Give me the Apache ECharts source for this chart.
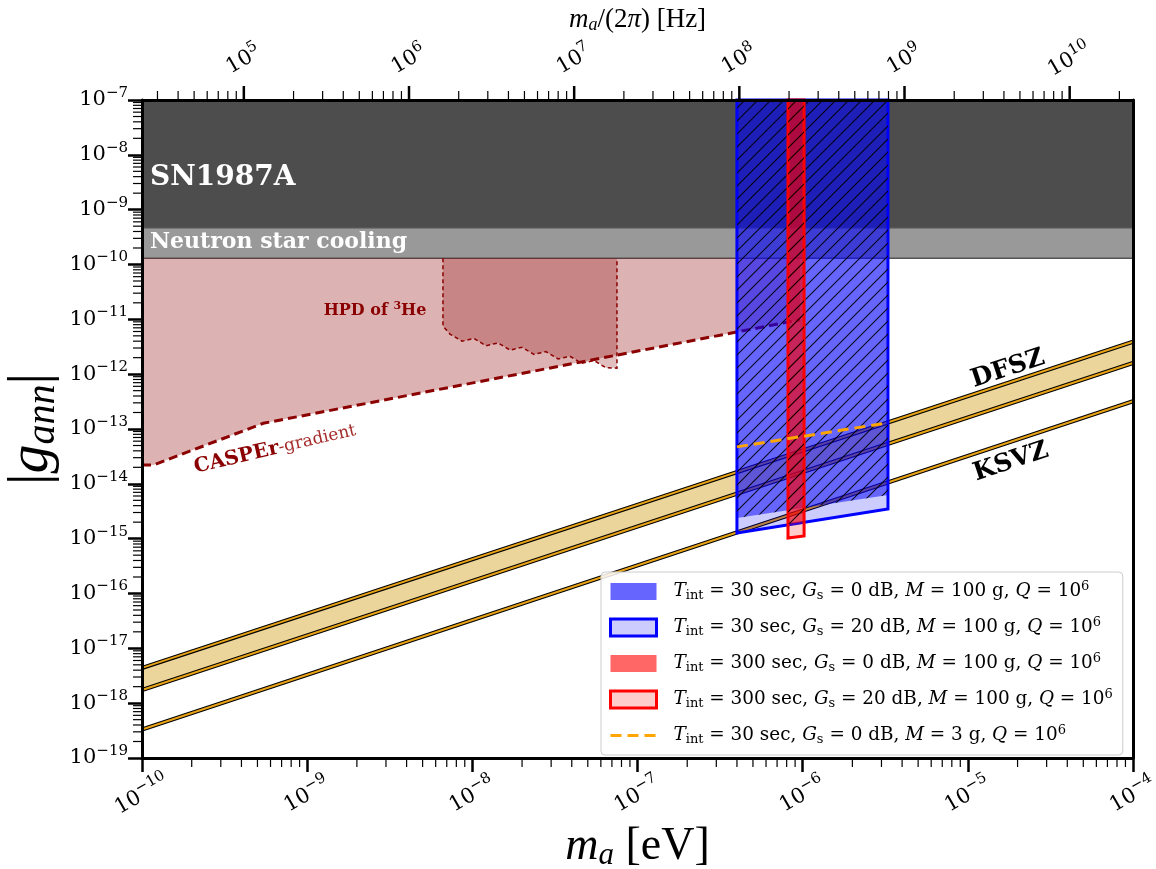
<!DOCTYPE html>
<html>
<head>
<meta charset="utf-8">
<script src="https://cdn.jsdelivr.net/npm/echarts@6/dist/echarts.min.js"></script>
<style>
html, body { margin: 0; padding: 0; background: #fff; }
#chart { width: 1156px; height: 869px; }
</style>
</head>
<body>
<div id="chart"></div>
<script>
var SERIF = "'Liberation Serif', 'DejaVu Serif', serif";
var DSERIF = "'DejaVu Serif', serif";
var lg = Math.log10;

// axis ranges (eV, coupling)
var xMin = 1e-10, xMax = 1e-4;
var yMin = 1e-19, yMax = 1e-7;
var hzPerEv = 1 / 4.1357e-15;

// tick exponents
var xTickExp = [-10, -9, -8, -7, -6, -5, -4];
var yTickExp = [-19, -18, -17, -16, -15, -14, -13, -12, -11, -10, -9, -8, -7];
var hzTickExp = [4, 5, 6, 7, 8, 9, 10];
var minorMult = [2, 3, 4, 5, 6, 7, 8, 9];

// astrophysical bounds
var sn1987a = [4.7e-10, 1e-7];
var nsCooling = [1.3e-10, 4.7e-10];

// CASPEr-gradient
var casperMass = [1e-10, 1.17e-10, 5.42e-10, 9.64e-7];
var casperG = [2.2e-14, 2.2e-14, 1.27e-13, 9.8e-12];

// HPD of 3He
var hpdMass = [6.64e-9, 6.64e-9, 7.32e-9, 8.66e-9, 1.023e-8, 1.21e-8, 1.43e-8, 1.69e-8, 2.0e-8,
  2.36e-8, 2.79e-8, 3.30e-8, 3.90e-8, 4.61e-8, 5.45e-8, 6.45e-8, 7.51e-8, 7.51e-8];
var hpdG = [1.3e-10, 7.55e-12, 5.39e-12, 3.99e-12, 4.49e-12, 3.30e-12, 3.72e-12, 2.75e-12, 3.09e-12,
  2.29e-12, 2.58e-12, 1.90e-12, 2.12e-12, 1.58e-12, 1.77e-12, 1.31e-12, 1.29e-12, 1.3e-10];

// QCD axion models
var modelMass = [1e-10, 1e-4];
var dfszUpper = [4.4e-18, 3.9e-12];
var dfszLower = [1.74e-18, 1.6e-12];
var ksvz = [3.3e-19, 3.2e-13];

// projected sensitivities
var blueMass = [4.0e-7, 3.285e-6];
var blue0dB = [2.38e-15, 6.25e-15];
var blue20dB = [1.27e-15, 3.47e-15];
var redMass = [8.15e-7, 1.02e-6];
var red0dB = [1.85e-15, 2.01e-15];
var red20dB = [1.03e-15, 1.12e-15];
var orangeMass = [4.0e-7, 3.285e-6];
var orange3g = [4.72e-14, 1.30e-13];

var legendRichText = {
  blue0: '{i0|T}{sub|int}{r| = 30 sec, }{i|G}{sub|s}{r| = 0 dB, }{i|M}{r| = 100 g, }{i|Q}{r| = 10}{sup|6}',
  blue20: '{i0|T}{sub|int}{r| = 30 sec, }{i|G}{sub|s}{r| = 20 dB, }{i|M}{r| = 100 g, }{i|Q}{r| = 10}{sup|6}',
  red0: '{i0|T}{sub|int}{r| = 300 sec, }{i|G}{sub|s}{r| = 0 dB, }{i|M}{r| = 100 g, }{i|Q}{r| = 10}{sup|6}',
  red20: '{i0|T}{sub|int}{r| = 300 sec, }{i|G}{sub|s}{r| = 20 dB, }{i|M}{r| = 100 g, }{i|Q}{r| = 10}{sup|6}',
  orange3g: '{i0|T}{sub|int}{r| = 30 sec, }{i|G}{sub|s}{r| = 0 dB, }{i|M}{r| = 3 g, }{i|Q}{r| = 10}{sup|6}'
};

function toPts(xs, ys) {
  return xs.map(function (x, i) { return [lg(x), lg(ys[i])]; });
}
function mapPts(api, arr) {
  return arr.map(function (p) { return api.coord(p); });
}

var snPoly = toPts([xMin, xMax, xMax, xMin], [sn1987a[0], sn1987a[0], sn1987a[1], sn1987a[1]]);
var nsPoly = toPts([xMin, xMax, xMax, xMin], [nsCooling[0], nsCooling[0], nsCooling[1], nsCooling[1]]);
var casperLine = toPts(casperMass, casperG);
var casperPoly = casperLine.concat(toPts([casperMass[casperMass.length - 1], xMin], [nsCooling[0], nsCooling[0]]));
var hpdPoly = toPts(hpdMass, hpdG);
var dfszUp = toPts(modelMass, dfszUpper);
var dfszLo = toPts(modelMass, dfszLower);
var dfszPoly = dfszUp.concat(dfszLo.slice().reverse());
var ksvzLine = toPts(modelMass, ksvz);

function bandPoly(ms, bottom) {
  return toPts([ms[0], ms[0], ms[1], ms[1]], [yMax, bottom[0], bottom[1], yMax]);
}

// hatch pattern for the 0 dB regions
function makeHatch() {
  var s = 13;
  var c = document.createElement('canvas');
  c.width = s; c.height = s;
  var ctx = c.getContext('2d');
  ctx.strokeStyle = 'rgba(0,0,0,0.9)';
  ctx.lineWidth = 1.1;
  ctx.beginPath();
  ctx.moveTo(0, s); ctx.lineTo(s, 0);
  ctx.moveTo(-2, 2); ctx.lineTo(2, -2);
  ctx.moveTo(s - 2, s + 2); ctx.lineTo(s + 2, s - 2);
  ctx.stroke();
  return c;
}
var hatch = { image: makeHatch(), repeat: 'repeat' };

function layer(name, color, z, build) {
  return {
    type: 'custom', name: name, z: z, silent: true,
    itemStyle: { color: color },
    data: [[-7, -13]],
    renderItem: function (params, api) {
      return { type: 'group', children: build(api) };
    }
  };
}

function goldLine(api, pts) {
  var p = mapPts(api, pts);
  return [
    { type: 'polyline', shape: { points: p }, style: { stroke: '#000', lineWidth: 4.2, fill: null } },
    { type: 'polyline', shape: { points: p }, style: { stroke: '#e8a317', lineWidth: 2, fill: null } }
  ];
}

var tickRich = {
  b: { fontFamily: DSERIF, fontSize: 21, lineHeight: 28, color: '#000', fill: '#000' },
  e: { fontFamily: DSERIF, fontSize: 15, lineHeight: 28, padding: [0, 0, 14, 0], color: '#000', fill: '#000' }
};
function powLabel(v) {
  var n = Math.round(v);
  return '{b|10}{e|' + (n < 0 ? '\u2212' + (-n) : n) + '}';
}

var series = [
  layer('SN1987A', '#4d4d4d', 2, function (api) {
    return [{ type: 'polygon', shape: { points: mapPts(api, snPoly) }, style: { fill: '#4d4d4d' } }];
  }),
  layer('NS', '#999999', 2, function (api) {
    return [{ type: 'polygon', shape: { points: mapPts(api, nsPoly) }, style: { fill: '#999999', stroke: '#555', lineWidth: 1.5 } }];
  }),
  layer('CASPEr', '#8b0000', 2, function (api) {
    return [
      { type: 'polygon', shape: { points: mapPts(api, casperPoly) }, style: { fill: 'rgba(139,0,0,0.3)' } },
      { type: 'polygon', shape: { points: mapPts(api, hpdPoly) }, style: { fill: 'rgba(139,0,0,0.25)' } },
      { type: 'polyline', shape: { points: mapPts(api, hpdPoly) }, style: { stroke: '#8b0000', lineWidth: 1.5, lineDash: [4, 3], fill: null } },
      { type: 'polyline', shape: { points: mapPts(api, casperLine) }, style: { stroke: '#8b0000', lineWidth: 3, lineDash: [9, 5], fill: null } }
    ];
  }),
  layer('models', '#ecd59b', 2, function (api) {
    return [{ type: 'polygon', shape: { points: mapPts(api, dfszPoly) }, style: { fill: '#ecd59b' } }]
      .concat(goldLine(api, dfszUp), goldLine(api, dfszLo), goldLine(api, ksvzLine));
  }),
  layer('blue20', '#ccccff', 3, function (api) {
    return [{ type: 'polygon', shape: { points: mapPts(api, bandPoly(blueMass, blue20dB)) }, style: { fill: 'rgba(0,0,255,0.2)', stroke: '#0000ff', lineWidth: 3 } }];
  }),
  layer('blue0', '#6666ff', 3, function (api) {
    var p = mapPts(api, bandPoly(blueMass, blue0dB));
    return [
      { type: 'polygon', shape: { points: p }, style: { fill: 'rgba(0,0,255,0.5)' } },
      { type: 'polygon', shape: { points: p }, style: { fill: hatch } }
    ];
  }),
  layer('red20', '#ffcccc', 3, function (api) {
    return [{ type: 'polygon', shape: { points: mapPts(api, bandPoly(redMass, red20dB)) }, style: { fill: 'rgba(255,0,0,0.2)', stroke: '#ff0000', lineWidth: 3 } }];
  }),
  layer('red0', '#ff6666', 3, function (api) {
    var p = mapPts(api, bandPoly(redMass, red0dB));
    return [
      { type: 'polygon', shape: { points: p }, style: { fill: 'rgba(255,0,0,0.55)' } },
      { type: 'polygon', shape: { points: p }, style: { fill: hatch } }
    ];
  }),
  {
    type: 'line', name: 'orange3g', z: 4, silent: true,
    data: toPts(orangeMass, orange3g), symbol: 'none',
    lineStyle: { color: '#ffa500', width: 3, type: [11, 6] },
    itemStyle: { color: '#ffa500' }
  },
  // minor ticks + top frequency axis
  layer('ticks', '#000', 10, function (api) {
    var els = [];
    var bl = api.coord([-10, -19]);
    var tr = api.coord([-4, -7]);
    function tick(x1, y1, x2, y2, w) {
      els.push({ type: 'line', shape: { x1: x1, y1: y1, x2: x2, y2: y2 }, style: { stroke: '#000', lineWidth: w } });
    }
    xTickExp.forEach(function (n) {
      if (n >= -4) return;
      minorMult.forEach(function (k) {
        var x = api.coord([n + lg(k), -19])[0];
        tick(x, bl[1], x, bl[1] + 9, 1.2);
      });
    });
    yTickExp.forEach(function (n) {
      if (n >= -7) return;
      minorMult.forEach(function (k) {
        var y = api.coord([-10, n + lg(k)])[1];
        tick(bl[0], y, bl[0] - 9, y, 1.2);
      });
    });
    hzTickExp.forEach(function (n) {
      [1].concat(minorMult).forEach(function (k) {
        var ev = lg(k * Math.pow(10, n) / hzPerEv);
        if (ev <= -10 || ev >= -4) return;
        var x = api.coord([ev, -7])[0];
        if (k === 1) {
          tick(x, tr[1], x, tr[1] - 14, 2.5);
          els.push({
            type: 'text', x: x, y: tr[1] - 40, rotation: 30 * Math.PI / 180,
            style: { text: powLabel(n), rich: tickRich, align: 'center', verticalAlign: 'middle', fill: '#000' }
          });
        } else {
          tick(x, tr[1], x, tr[1] - 9, 1.2);
        }
      });
    });
    return els;
  })
];

var chart = echarts.init(document.getElementById('chart'), null, { renderer: 'canvas' });
chart.setOption({
  animation: false,
  backgroundColor: '#fff',
  grid: { left: 142, top: 100, right: 23, bottom: 111, outerBoundsMode: 'none', containLabel: false },
  xAxis: [{
    type: 'value', position: 'bottom', min: -10, max: -4, interval: 1, z: 10,
    axisLine: { onZero: false, lineStyle: { color: '#000', width: 3 } },
    axisTick: { length: 14, lineStyle: { color: '#000', width: 2.5 } },
    splitLine: { show: false },
    axisLabel: { rotate: 30, margin: 37, align: 'center', verticalAlign: 'middle', formatter: powLabel, rich: tickRich },
    name: '{i|m}{s|a}{r| [eV]}', nameLocation: 'middle', nameGap: 64, nameMoveOverlap: false,
    nameTextStyle: {
      rich: {
        i: { fontFamily: SERIF, fontStyle: 'italic', fontSize: 46, lineHeight: 50, color: '#000' },
        s: { fontFamily: SERIF, fontStyle: 'italic', fontSize: 31, lineHeight: 50, padding: [18, 0, 0, 0], color: '#000' },
        r: { fontFamily: SERIF, fontSize: 46, lineHeight: 50, color: '#000' }
      }
    }
  }, {
    type: 'value', position: 'top', min: -10, max: -4, z: 10,
    axisLine: { onZero: false, lineStyle: { color: '#000', width: 3 } },
    axisTick: { show: false }, axisLabel: { show: false }, splitLine: { show: false },
    name: '{i|m}{s|a}{r|/(2}{i|\u03c0}{r|) [Hz]}', nameLocation: 'middle', nameGap: 64, nameMoveOverlap: false,
    nameTextStyle: {
      rich: {
        i: { fontFamily: SERIF, fontStyle: 'italic', fontSize: 27, lineHeight: 32, color: '#000' },
        s: { fontFamily: SERIF, fontStyle: 'italic', fontSize: 18, lineHeight: 32, padding: [11, 0, 0, 0], color: '#000' },
        r: { fontFamily: SERIF, fontSize: 27, lineHeight: 32, color: '#000' }
      }
    }
  }],
  yAxis: [{
    type: 'value', position: 'left', min: -19, max: -7, interval: 1, z: 10,
    axisLine: { onZero: false, lineStyle: { color: '#000', width: 3 } },
    axisTick: { length: 14, lineStyle: { color: '#000', width: 2.5 } },
    splitLine: { show: false },
    axisLabel: { margin: 14, formatter: powLabel, rich: tickRich },
    name: '{r||}{i|g}{s|ann}{r||}', nameLocation: 'middle', nameRotate: 90, nameGap: 80, nameMoveOverlap: false,
    nameTextStyle: {
      rich: {
        i: { fontFamily: SERIF, fontStyle: 'italic', fontSize: 58, lineHeight: 60, color: '#000' },
        s: { fontFamily: SERIF, fontStyle: 'italic', fontSize: 40, lineHeight: 60, padding: [22, 0, 0, 0], color: '#000' },
        r: { fontFamily: SERIF, fontSize: 58, lineHeight: 60, color: '#000' }
      }
    }
  }, {
    type: 'value', position: 'right', min: -19, max: -7, z: 10,
    axisLine: { onZero: false, lineStyle: { color: '#000', width: 3 } },
    axisTick: { show: false }, axisLabel: { show: false }, splitLine: { show: false }
  }],
  legend: {
    orient: 'vertical', left: 601, top: 572,
    padding: [8, 10, 8, 8],
    itemWidth: 46, itemHeight: 17, itemGap: 13,
    backgroundColor: 'rgba(255,255,255,0.85)', borderColor: '#cccccc', borderWidth: 1, borderRadius: 4,
    selectedMode: false,
    data: [
      { name: 'blue0', icon: 'rect', itemStyle: { color: '#6666ff', borderWidth: 0 } },
      { name: 'blue20', icon: 'rect', itemStyle: { color: '#ccccff', borderColor: '#0000ff', borderWidth: 3 } },
      { name: 'red0', icon: 'rect', itemStyle: { color: '#ff6666', borderWidth: 0 } },
      { name: 'red20', icon: 'rect', itemStyle: { color: '#ffcccc', borderColor: '#ff0000', borderWidth: 3 } },
      { name: 'orange3g', itemStyle: { color: 'rgba(0,0,0,0)', borderWidth: 0 }, lineStyle: { color: '#ffa500', width: 3, type: [11, 6] } }
    ],
    formatter: function (name) { return legendRichText[name]; },
    textStyle: {
      fontFamily: DSERIF, fontSize: 18.4, color: '#000', lineHeight: 22,
      rich: {
        i0: { fontFamily: DSERIF, fontStyle: 'italic', fontSize: 18.4, lineHeight: 22, padding: [0, 0, 0, 12] },
        i: { fontFamily: DSERIF, fontStyle: 'italic', fontSize: 18.4, lineHeight: 22 },
        r: { fontFamily: DSERIF, fontSize: 18.4, lineHeight: 22 },
        sub: { fontFamily: DSERIF, fontSize: 13, lineHeight: 22, padding: [9, 0, 0, 0] },
        sup: { fontFamily: DSERIF, fontSize: 13, lineHeight: 22, padding: [0, 0, 10, 0] }
      }
    }
  },
  graphic: [
    { type: 'text', x: 150, y: 178, z: 20, style: { text: 'SN1987A', fill: '#fff', font: 'bold 28px ' + DSERIF, verticalAlign: 'middle' } },
    { type: 'text', x: 150, y: 242, z: 20, style: { text: 'Neutron star cooling', fill: '#fff', font: 'bold 22px ' + DSERIF, verticalAlign: 'middle' } },
    {
      type: 'text', x: 375, y: 311, z: 20,
      style: {
        text: '{b|HPD of }{s|3}{b|He}', align: 'center', verticalAlign: 'middle',
        rich: {
          b: { fontFamily: DSERIF, fontWeight: 'bold', fontSize: 16, lineHeight: 20, fill: '#8b0000' },
          s: { fontFamily: DSERIF, fontWeight: 'bold', fontSize: 11, lineHeight: 20, padding: [0, 0, 9, 0], fill: '#8b0000' }
        }
      }
    },
    {
      type: 'text', x: 275, y: 449, z: 20, rotation: 13 * Math.PI / 180,
      style: {
        text: '{b|CASPEr}{r|-gradient}', align: 'center', verticalAlign: 'middle',
        rich: {
          b: { fontFamily: DSERIF, fontWeight: 'bold', fontSize: 20, lineHeight: 24, fill: '#8b0000' },
          r: { fontFamily: DSERIF, fontSize: 17, lineHeight: 24, fill: '#a52a2a' }
        }
      }
    },
    { type: 'text', x: 1008, y: 369, z: 20, rotation: 18.4 * Math.PI / 180, style: { text: 'DFSZ', fill: '#000', font: 'bold 25px ' + DSERIF, align: 'center', verticalAlign: 'middle' } },
    { type: 'text', x: 1011, y: 462, z: 20, rotation: 18.4 * Math.PI / 180, style: { text: 'KSVZ', fill: '#000', font: 'bold 25px ' + DSERIF, align: 'center', verticalAlign: 'middle' } }
  ],
  series: series
});
</script>
</body>
</html>
